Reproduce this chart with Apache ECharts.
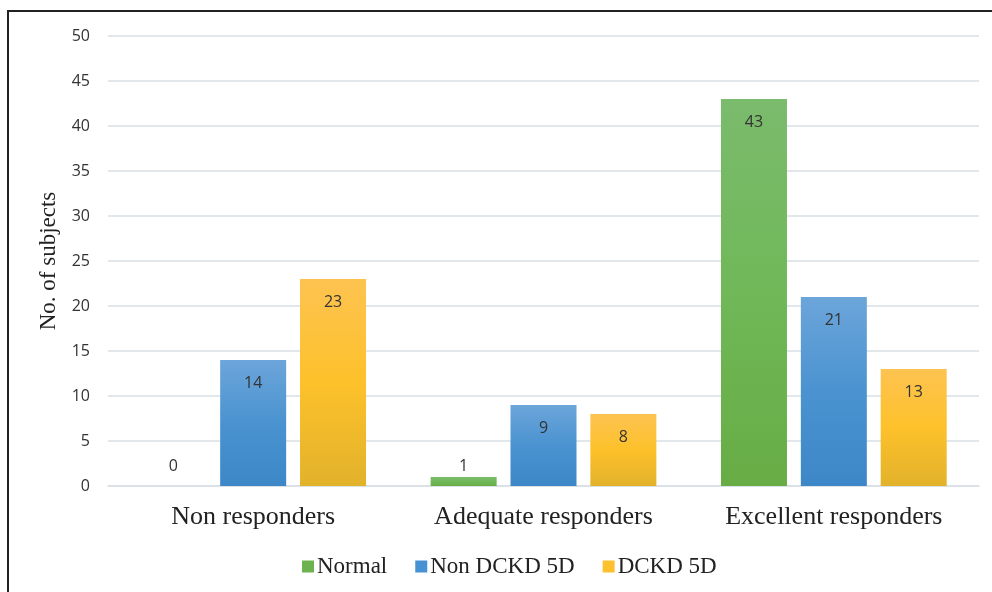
<!DOCTYPE html>
<html>
<head>
<meta charset="utf-8">
<script src="https://cdn.jsdelivr.net/npm/echarts@6/dist/echarts.min.js"></script>
<style>
  html, body { margin: 0; padding: 0; background: #fff; }
  #chart { width: 992px; height: 592px; }
</style>
</head>
<body>
<div id="chart"></div>
<script>
// Response categories and subject counts per group
const categories = ['Non responders', 'Adequate responders', 'Excellent responders'];
const seriesNames = ['Normal', 'Non DCKD 5D', 'DCKD 5D'];
const normalCounts = [0, 1, 43];
const nonDckdCounts = [14, 9, 21];
const dckdCounts = [23, 8, 13];
const yTicks = [0, 5, 10, 15, 20, 25, 30, 35, 40, 45, 50];

const chart = echarts.init(document.getElementById('chart'), null, { renderer: 'canvas' });

function grad(top, mid, bottom) {
  return new echarts.graphic.LinearGradient(0, 0, 0, 1, [
    { offset: 0, color: top },
    { offset: 0.5, color: mid },
    { offset: 1, color: bottom }
  ]);
}

const fills = [
  grad('#7bbb6d', '#70b858', '#67ac45'),
  grad('#6ca5da', '#4a93d0', '#3d87c8'),
  grad('#fdc350', '#fdc12b', '#e2b22b')
];
const legendColors = ['#6cb24f', '#4692d3', '#fdc02e'];

const valueSets = [normalCounts, nonDckdCounts, dckdCounts];

const labelFont = 'Open Sans, Liberation Sans, sans-serif';
const serifFont = 'Liberation Serif, Times New Roman, serif';

// bars too short to hold their number get the label just above them
function toData(values) {
  return values.map(v => {
    if (v === 0) return { value: v, label: { position: 'top', distance: 12 } };
    if (v < 3) return { value: v, label: { position: 'top', distance: 3 } };
    return v;
  });
}

const series = seriesNames.map((name, i) => ({
  name: name,
  type: 'bar',
  data: toData(valueSets[i]),
  barWidth: 66,
  barGap: '21%',
  itemStyle: { color: fills[i] },
  label: {
    show: true,
    position: 'insideTop',
    distance: 15,
    color: '#333',
    fontFamily: labelFont,
    fontSize: 16
  },
  emphasis: { disabled: true }
}));

chart.setOption({
  animation: false,
  backgroundColor: '#fff',
  graphic: [
    {
      type: 'polyline',
      shape: { points: [[8, 600], [8, 11], [1000, 11]] },
      style: { stroke: '#222', lineWidth: 2, fill: null },
      silent: true
    }
  ],
  grid: { left: 108, right: 13, top: 36, bottom: 106, containLabel: false },
  legend: {
    bottom: 9,
    left: 297,
    itemWidth: 12,
    itemHeight: 12,
    itemGap: 28,
    icon: 'rect',
    data: seriesNames.map((n, i) => ({ name: n, itemStyle: { color: legendColors[i] } })),
    textStyle: {
      fontFamily: serifFont,
      fontSize: 23,
      color: '#222',
      padding: [0, 0, 0, -2]
    }
  },
  xAxis: {
    type: 'category',
    data: categories,
    axisLine: { show: true, lineStyle: { color: '#d9dfe6', width: 1.5 } },
    axisTick: { show: false },
    axisLabel: {
      fontFamily: serifFont,
      fontSize: 26,
      color: '#222',
      margin: 18
    }
  },
  yAxis: {
    type: 'value',
    min: 0,
    max: 50,
    interval: 5,
    name: 'No. of subjects',
    nameLocation: 'middle',
    nameGap: 45,
    nameTextStyle: {
      fontFamily: serifFont,
      fontSize: 23,
      color: '#222'
    },
    axisLine: { show: false },
    axisTick: { show: false },
    splitLine: { lineStyle: { color: '#d9dfe6', width: 1.5 } },
    axisLabel: {
      fontFamily: labelFont,
      fontSize: 16,
      color: '#333',
      margin: 18,
      formatter: v => yTicks.includes(v) ? String(v) : ''
    }
  },
  series: series
});
</script>
</body>
</html>
